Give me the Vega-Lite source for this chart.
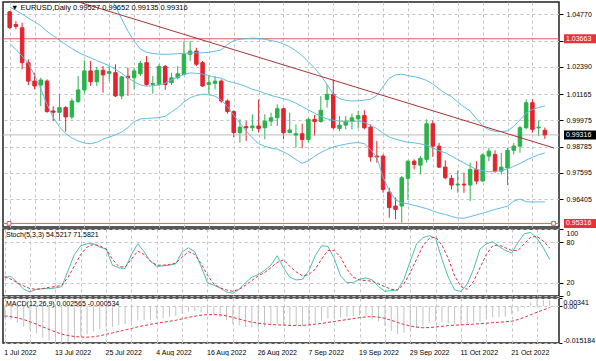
{
  "$schema": "https://vega.github.io/schema/vega-lite/v6.json",
  "padding": {"left": 1, "top": 1, "right": 0, "bottom": 0},
  "background": "white",
  "spacing": 2,
  "bounds": "flush",
  "config": {
    "view": {"stroke": "#222222", "strokeWidth": 1.5},
    "axis": {"labelFont": "Liberation Sans", "labelFontSize": 7, "labelColor": "#000000", "gridColor": "#c4c4c4", "gridDash": [3, 3], "gridWidth": 1, "tickColor": "#000000", "domain": false, "labelOverlap": false},
    "text": {"font": "Liberation Sans", "fontSize": 7.5, "color": "#000000"}
  },
  "datasets": {
    "bars": [
      {"i":0,"o":1.0488,"h":1.0492,"l":1.0410,"c":1.0417,"u":1.066,"m":1.0510,"lb":1.0345,"k":28,"d":29,"mc":-0.0048,"sg":-0.0040},
      {"i":1,"o":1.0431,"h":1.0446,"l":1.0410,"c":1.0422,"u":1.066,"m":1.0495,"lb":1.0318,"k":29,"d":25,"mc":-0.0055,"sg":-0.0043},
      {"i":2,"o":1.0416,"h":1.0439,"l":1.0228,"c":1.0258,"u":1.068,"m":1.0478,"lb":1.0288,"k":20,"d":20,"mc":-0.0068,"sg":-0.0048},
      {"i":3,"o":1.0258,"h":1.0273,"l":1.0157,"c":1.0175,"u":1.069,"m":1.0460,"lb":1.0255,"k":10,"d":15,"mc":-0.0085,"sg":-0.0055},
      {"i":4,"o":1.0175,"h":1.0213,"l":1.0138,"c":1.0153,"u":1.070,"m":1.0443,"lb":1.0200,"k":6,"d":11,"mc":-0.0100,"sg":-0.0064},
      {"i":5,"o":1.0157,"h":1.0190,"l":1.0062,"c":1.0180,"u":1.069,"m":1.0425,"lb":1.0140,"k":10,"d":10,"mc":-0.0112,"sg":-0.0074},
      {"i":6,"o":1.0175,"h":1.0183,"l":1.0032,"c":1.0037,"u":1.070,"m":1.0400,"lb":1.0070,"k":11,"d":11,"mc":-0.0130,"sg":-0.0085},
      {"i":7,"o":1.0040,"h":1.0062,"l":0.9995,"c":1.0034,"u":1.069,"m":1.0380,"lb":1.0010,"k":11,"d":13,"mc":-0.0142,"sg":-0.0096},
      {"i":8,"o":1.0034,"h":1.0115,"l":0.9995,"c":1.0055,"u":1.068,"m":1.0360,"lb":0.9968,"k":12,"d":14,"mc":-0.0148,"sg":-0.0106},
      {"i":9,"o":1.0055,"h":1.0062,"l":0.9946,"c":1.0013,"u":1.067,"m":1.0340,"lb":0.9938,"k":14,"d":16,"mc":-0.0152,"sg":-0.0115},
      {"i":10,"o":1.0013,"h":1.0097,"l":1.0002,"c":1.0085,"u":1.065,"m":1.0322,"lb":0.9918,"k":38,"d":28,"mc":-0.0148,"sg":-0.0121},
      {"i":11,"o":1.0082,"h":1.0198,"l":1.0077,"c":1.0135,"u":1.063,"m":1.0305,"lb":0.9904,"k":62,"d":45,"mc":-0.0138,"sg":-0.0125},
      {"i":12,"o":1.0135,"h":1.0269,"l":1.0118,"c":1.0221,"u":1.061,"m":1.0292,"lb":0.9895,"k":75,"d":62,"mc":-0.0124,"sg":-0.0127},
      {"i":13,"o":1.0221,"h":1.0266,"l":1.0153,"c":1.0172,"u":1.060,"m":1.0280,"lb":0.9892,"k":78,"d":73,"mc":-0.0115,"sg":-0.0128},
      {"i":14,"o":1.0172,"h":1.0239,"l":1.0153,"c":1.0224,"u":1.059,"m":1.0268,"lb":0.9898,"k":78,"d":77,"mc":-0.0104,"sg":-0.0126},
      {"i":15,"o":1.0224,"h":1.0243,"l":1.0123,"c":1.0203,"u":1.058,"m":1.0256,"lb":0.9912,"k":73,"d":75,"mc":-0.0095,"sg":-0.0122},
      {"i":16,"o":1.0210,"h":1.0243,"l":1.0175,"c":1.0218,"u":1.056,"m":1.0245,"lb":0.9922,"k":70,"d":70,"mc":-0.0087,"sg":-0.0116},
      {"i":17,"o":1.0213,"h":1.0251,"l":1.0103,"c":1.0108,"u":1.0514,"m":1.0228,"lb":0.9932,"k":46,"d":55,"mc":-0.0085,"sg":-0.0110},
      {"i":18,"o":1.0108,"h":1.0198,"l":1.0093,"c":1.0194,"u":1.0456,"m":1.0210,"lb":0.9945,"k":42,"d":44,"mc":-0.0078,"sg":-0.0104},
      {"i":19,"o":1.0197,"h":1.0236,"l":1.0108,"c":1.0190,"u":1.0401,"m":1.0190,"lb":0.9965,"k":41,"d":43,"mc":-0.0073,"sg":-0.0098},
      {"i":20,"o":1.0190,"h":1.0236,"l":1.0138,"c":1.0221,"u":1.0356,"m":1.0172,"lb":0.9992,"k":62,"d":55,"mc":-0.0066,"sg":-0.0092},
      {"i":21,"o":1.0208,"h":1.0266,"l":1.0198,"c":1.0255,"u":1.0320,"m":1.0158,"lb":1.0004,"k":78,"d":67,"mc":-0.0058,"sg":-0.0085},
      {"i":22,"o":1.0258,"h":1.0289,"l":1.0153,"c":1.0160,"u":1.0305,"m":1.0152,"lb":1.0006,"k":66,"d":62,"mc":-0.0057,"sg":-0.0080},
      {"i":23,"o":1.0160,"h":1.0198,"l":1.0118,"c":1.0164,"u":1.0300,"m":1.0154,"lb":1.0008,"k":52,"d":52,"mc":-0.0056,"sg":-0.0075},
      {"i":24,"o":1.0160,"h":1.0251,"l":1.0153,"c":1.0241,"u":1.0297,"m":1.0158,"lb":1.0010,"k":44,"d":46,"mc":-0.0050,"sg":-0.0070},
      {"i":25,"o":1.0241,"h":1.0248,"l":1.0135,"c":1.0160,"u":1.0296,"m":1.0165,"lb":1.0016,"k":45,"d":46,"mc":-0.0049,"sg":-0.0066},
      {"i":26,"o":1.0168,"h":1.0213,"l":1.0157,"c":1.0190,"u":1.0297,"m":1.0180,"lb":1.0035,"k":46,"d":47,"mc":-0.0045,"sg":-0.0062},
      {"i":27,"o":1.0190,"h":1.0243,"l":1.0183,"c":1.0208,"u":1.0299,"m":1.0192,"lb":1.0055,"k":48,"d":49,"mc":-0.0040,"sg":-0.0058},
      {"i":28,"o":1.0205,"h":1.0355,"l":1.0202,"c":1.0296,"u":1.0300,"m":1.0205,"lb":1.0080,"k":66,"d":58,"mc":-0.0030,"sg":-0.0052},
      {"i":29,"o":1.0296,"h":1.0356,"l":1.0266,"c":1.0311,"u":1.0302,"m":1.0212,"lb":1.0100,"k":72,"d":66,"mc":-0.0022,"sg":-0.0046},
      {"i":30,"o":1.0311,"h":1.0326,"l":1.0243,"c":1.0251,"u":1.0303,"m":1.0210,"lb":1.0110,"k":66,"d":62,"mc":-0.0020,"sg":-0.0041},
      {"i":31,"o":1.0258,"h":1.0266,"l":1.0148,"c":1.0153,"u":1.0303,"m":1.0207,"lb":1.0116,"k":44,"d":48,"mc":-0.0025,"sg":-0.0037},
      {"i":32,"o":1.0160,"h":1.0198,"l":1.0118,"c":1.0168,"u":1.0305,"m":1.0200,"lb":1.0113,"k":20,"d":31,"mc":-0.0030,"sg":-0.0035},
      {"i":33,"o":1.0165,"h":1.0198,"l":1.0138,"c":1.0175,"u":1.0310,"m":1.0192,"lb":1.0107,"k":16,"d":18,"mc":-0.0034,"sg":-0.0034},
      {"i":34,"o":1.0175,"h":1.0183,"l":1.0077,"c":1.0085,"u":1.0316,"m":1.0188,"lb":1.0090,"k":12,"d":12,"mc":-0.0045,"sg":-0.0036},
      {"i":35,"o":1.0085,"h":1.0092,"l":1.0028,"c":1.0037,"u":1.0341,"m":1.0175,"lb":1.0060,"k":6,"d":9,"mc":-0.0058,"sg":-0.0040},
      {"i":36,"o":1.0037,"h":1.0043,"l":0.9922,"c":0.9942,"u":1.0358,"m":1.0168,"lb":1.0020,"k":4,"d":7,"mc":-0.0073,"sg":-0.0046},
      {"i":37,"o":0.9942,"h":1.0002,"l":0.9897,"c":0.9967,"u":1.0364,"m":1.0160,"lb":0.9985,"k":10,"d":10,"mc":-0.0080,"sg":-0.0053},
      {"i":38,"o":0.9969,"h":0.9994,"l":0.9904,"c":0.9964,"u":1.0367,"m":1.0150,"lb":0.9950,"k":20,"d":16,"mc":-0.0085,"sg":-0.0060},
      {"i":39,"o":0.9964,"h":1.0025,"l":0.9949,"c":0.9972,"u":1.0369,"m":1.0138,"lb":0.9918,"k":28,"d":23,"mc":-0.0087,"sg":-0.0066},
      {"i":40,"o":0.9972,"h":1.0092,"l":0.9942,"c":0.9961,"u":1.0368,"m":1.0130,"lb":0.9892,"k":32,"d":30,"mc":-0.0088,"sg":-0.0070},
      {"i":41,"o":0.9964,"h":1.0025,"l":0.9912,"c":0.9994,"u":1.0364,"m":1.0120,"lb":0.9880,"k":38,"d":35,"mc":-0.0085,"sg":-0.0073},
      {"i":42,"o":0.9994,"h":1.0032,"l":0.9972,"c":1.0009,"u":1.0358,"m":1.0110,"lb":0.9872,"k":46,"d":42,"mc":-0.0080,"sg":-0.0075},
      {"i":43,"o":1.0009,"h":1.0070,"l":0.9972,"c":1.0050,"u":1.0353,"m":1.0103,"lb":0.9867,"k":60,"d":50,"mc":-0.0074,"sg":-0.0077},
      {"i":44,"o":1.0050,"h":1.0055,"l":0.9912,"c":0.9942,"u":1.0343,"m":1.0095,"lb":0.9855,"k":42,"d":54,"mc":-0.0077,"sg":-0.0078},
      {"i":45,"o":0.9942,"h":1.0032,"l":0.9939,"c":0.9954,"u":1.0330,"m":1.0088,"lb":0.9840,"k":28,"d":44,"mc":-0.0078,"sg":-0.0079},
      {"i":46,"o":0.9931,"h":0.9979,"l":0.9874,"c":0.9937,"u":1.0312,"m":1.0075,"lb":0.9820,"k":24,"d":36,"mc":-0.0080,"sg":-0.0079},
      {"i":47,"o":0.9937,"h":0.9982,"l":0.9871,"c":0.9911,"u":1.0290,"m":1.0060,"lb":0.9803,"k":25,"d":30,"mc":-0.0082,"sg":-0.0079},
      {"i":48,"o":0.9911,"h":1.0009,"l":0.9898,"c":1.0002,"u":1.0262,"m":1.0044,"lb":0.9815,"k":38,"d":32,"mc":-0.0075,"sg":-0.0077},
      {"i":49,"o":1.0002,"h":1.0022,"l":0.9927,"c":0.9992,"u":1.0235,"m":1.0030,"lb":0.9835,"k":60,"d":40,"mc":-0.0068,"sg":-0.0074},
      {"i":50,"o":0.9992,"h":1.0107,"l":0.9987,"c":1.0043,"u":1.0200,"m":1.0015,"lb":0.9852,"k":75,"d":55,"mc":-0.0060,"sg":-0.0071},
      {"i":51,"o":1.0092,"h":1.0160,"l":1.0055,"c":1.0115,"u":1.0160,"m":1.0004,"lb":0.9866,"k":74,"d":68,"mc":-0.0050,"sg":-0.0067},
      {"i":52,"o":1.0115,"h":1.0183,"l":0.9957,"c":0.9964,"u":1.0115,"m":0.9998,"lb":0.9877,"k":56,"d":68,"mc":-0.0048,"sg":-0.0063},
      {"i":53,"o":0.9961,"h":1.0017,"l":0.9949,"c":0.9976,"u":1.0096,"m":0.9994,"lb":0.9884,"k":30,"d":58,"mc":-0.0046,"sg":-0.0059},
      {"i":54,"o":0.9976,"h":1.0017,"l":0.9957,"c":0.9994,"u":1.0088,"m":0.9991,"lb":0.9890,"k":20,"d":40,"mc":-0.0043,"sg":-0.0055},
      {"i":55,"o":0.9994,"h":1.0028,"l":0.9957,"c":1.0009,"u":1.0085,"m":0.9992,"lb":0.9895,"k":20,"d":28,"mc":-0.0040,"sg":-0.0051},
      {"i":56,"o":1.0004,"h":1.0040,"l":0.9961,"c":1.0019,"u":1.0086,"m":0.9994,"lb":0.9897,"k":25,"d":24,"mc":-0.0038,"sg":-0.0047},
      {"i":57,"o":1.0019,"h":1.0043,"l":0.9957,"c":0.9964,"u":1.0089,"m":0.9988,"lb":0.9892,"k":27,"d":23,"mc":-0.0040,"sg":-0.0044},
      {"i":58,"o":0.9967,"h":0.9979,"l":0.9811,"c":0.9832,"u":1.0093,"m":0.9975,"lb":0.9865,"k":24,"d":22,"mc":-0.0052,"sg":-0.0043},
      {"i":59,"o":0.9836,"h":0.9904,"l":0.9806,"c":0.9832,"u":1.0110,"m":0.9960,"lb":0.9830,"k":14,"d":18,"mc":-0.0062,"sg":-0.0045},
      {"i":60,"o":0.9836,"h":0.9844,"l":0.9670,"c":0.9685,"u":1.0150,"m":0.9940,"lb":0.9740,"k":7,"d":14,"mc":-0.0082,"sg":-0.0050},
      {"i":61,"o":0.9673,"h":0.9693,"l":0.9557,"c":0.9603,"u":1.0188,"m":0.9922,"lb":0.9680,"k":8,"d":10,"mc":-0.0102,"sg":-0.0058},
      {"i":62,"o":0.9610,"h":0.9648,"l":0.9550,"c":0.9595,"u":1.0203,"m":0.9912,"lb":0.9638,"k":9,"d":9,"mc":-0.0115,"sg":-0.0067},
      {"i":63,"o":0.9610,"h":0.9746,"l":0.9535,"c":0.9738,"u":1.0206,"m":0.9905,"lb":0.9625,"k":25,"d":18,"mc":-0.0110,"sg":-0.0075},
      {"i":64,"o":0.9735,"h":0.9816,"l":0.9640,"c":0.9813,"u":1.0200,"m":0.9898,"lb":0.9620,"k":52,"d":35,"mc":-0.0098,"sg":-0.0082},
      {"i":65,"o":0.9813,"h":0.9821,"l":0.9776,"c":0.9798,"u":1.0195,"m":0.9896,"lb":0.9613,"k":78,"d":55,"mc":-0.0090,"sg":-0.0086},
      {"i":66,"o":0.9795,"h":0.9836,"l":0.9753,"c":0.9826,"u":1.0188,"m":0.9891,"lb":0.9606,"k":87,"d":75,"mc":-0.0082,"sg":-0.0089},
      {"i":67,"o":0.9821,"h":1.0002,"l":0.9806,"c":0.9982,"u":1.0178,"m":0.9885,"lb":0.9598,"k":90,"d":86,"mc":-0.0068,"sg":-0.0088},
      {"i":68,"o":0.9982,"h":0.9997,"l":0.9832,"c":0.9881,"u":1.0162,"m":0.9873,"lb":0.9588,"k":86,"d":88,"mc":-0.0063,"sg":-0.0086},
      {"i":69,"o":0.9881,"h":0.9896,"l":0.9783,"c":0.9786,"u":1.0140,"m":0.9860,"lb":0.9578,"k":55,"d":76,"mc":-0.0066,"sg":-0.0083},
      {"i":70,"o":0.9786,"h":0.9817,"l":0.9731,"c":0.9738,"u":1.0120,"m":0.9851,"lb":0.9572,"k":28,"d":56,"mc":-0.0070,"sg":-0.0080},
      {"i":71,"o":0.9735,"h":0.9750,"l":0.9685,"c":0.9705,"u":1.0105,"m":0.9836,"lb":0.9563,"k":9,"d":30,"mc":-0.0074,"sg":-0.0078},
      {"i":72,"o":0.9705,"h":0.9771,"l":0.9670,"c":0.9709,"u":1.0080,"m":0.9820,"lb":0.9556,"k":7,"d":14,"mc":-0.0075,"sg":-0.0077},
      {"i":73,"o":0.9709,"h":0.9761,"l":0.9670,"c":0.9705,"u":1.0058,"m":0.9805,"lb":0.9555,"k":18,"d":10,"mc":-0.0074,"sg":-0.0076},
      {"i":74,"o":0.9705,"h":0.9806,"l":0.9633,"c":0.9775,"u":1.0040,"m":0.9790,"lb":0.9562,"k":40,"d":22,"mc":-0.0066,"sg":-0.0074},
      {"i":75,"o":0.9775,"h":0.9813,"l":0.9708,"c":0.9723,"u":1.0005,"m":0.9776,"lb":0.9570,"k":70,"d":42,"mc":-0.0064,"sg":-0.0072},
      {"i":76,"o":0.9723,"h":0.9847,"l":0.9720,"c":0.9841,"u":0.9972,"m":0.9770,"lb":0.9578,"k":78,"d":62,"mc":-0.0054,"sg":-0.0070},
      {"i":77,"o":0.9836,"h":0.9874,"l":0.9813,"c":0.9858,"u":0.9955,"m":0.9765,"lb":0.9586,"k":81,"d":75,"mc":-0.0046,"sg":-0.0068},
      {"i":78,"o":0.9843,"h":0.9862,"l":0.9760,"c":0.9768,"u":0.9948,"m":0.9766,"lb":0.9595,"k":74,"d":76,"mc":-0.0045,"sg":-0.0066},
      {"i":79,"o":0.9768,"h":0.9851,"l":0.9753,"c":0.9786,"u":0.9947,"m":0.9771,"lb":0.9602,"k":68,"d":72,"mc":-0.0043,"sg":-0.0064},
      {"i":80,"o":0.9783,"h":0.9874,"l":0.9705,"c":0.9862,"u":0.9950,"m":0.9778,"lb":0.9610,"k":64,"d":68,"mc":-0.0033,"sg":-0.0062},
      {"i":81,"o":0.9862,"h":0.9896,"l":0.9843,"c":0.9881,"u":0.9970,"m":0.9790,"lb":0.9632,"k":80,"d":68,"mc":-0.0022,"sg":-0.0055},
      {"i":82,"o":0.9881,"h":0.9972,"l":0.9851,"c":0.9964,"u":1.0000,"m":0.9802,"lb":0.9642,"k":93,"d":78,"mc":-0.0008,"sg":-0.0046},
      {"i":83,"o":0.9964,"h":1.0092,"l":0.9957,"c":1.0077,"u":1.0030,"m":0.9818,"lb":0.9630,"k":95,"d":88,"mc":0.0016,"sg":-0.0035},
      {"i":84,"o":1.0077,"h":1.0092,"l":0.9942,"c":0.9957,"u":1.0046,"m":0.9830,"lb":0.9628,"k":86,"d":89,"mc":0.0024,"sg":-0.0025},
      {"i":85,"o":0.9964,"h":0.9997,"l":0.9926,"c":0.9967,"u":1.0056,"m":0.9842,"lb":0.9629,"k":72,"d":82,"mc":0.0027,"sg":-0.0015},
      {"i":86,"o":0.99527,"h":0.99652,"l":0.99135,"c":0.99316,"u":1.0062,"m":0.9850,"lb":0.9629,"k":54.5217,"d":71.5821,"mc":0.002565,"sg":-0.000534}
    ],
    "levels": [
      {"p": 1.03663, "kind": "line"},
      {"p": 0.95316, "kind": "line"},
      {"p": 0.99316, "kind": "bid"}
    ],
    "trend": [
      {"i": 10, "p": 1.0542},
      {"i": 87.47, "p": 0.98725}
    ],
    "anchors": [
      {"i": -0.1, "p": 0.95316},
      {"i": 87.4, "p": 0.95316}
    ]
  },
  "vconcat": [
    {
      "width": 556,
      "height": 225,
      "layer": [
        {
          "data": {"name": "bars"},
          "mark": {"type": "rule", "clip": true},
          "encoding": {
            "x": {"field": "i", "type": "quantitative", "scale": {"domain": [-0.27, 87.47], "nice": false, "zero": false},
                  "axis": {"title": null, "values": [0,4,8,12,16,20,24,28,32,36,40,44,48,52,56,60,64,68,72,76,80,84], "tickCount": 40, "labels": false, "ticks": false, "grid": true, "minExtent": 0, "maxExtent": 0, "offset": 0}},
            "y": {"field": "l", "type": "quantitative", "scale": {"domain": [0.95153, 1.05326], "nice": false, "zero": false},
                  "axis": {"title": null, "orient": "right", "values": [1.0477, 1.0358, 1.0239, 1.01165, 0.99975, 0.98785, 0.97595, 0.96405], "tickCount": 20, "tickSize": 4, "labelPadding": 3, "grid": true, "labelOverlap": false,
                           "labelExpr": "datum.value == 1.0358 ? '' : format(datum.value, '.5f')"}},
            "y2": {"field": "h"},
            "color": {"condition": {"test": "datum.c >= datum.o", "value": "#2bb24c"}, "value": "#e3242e"}
          }
        },
        {
          "data": {"name": "levels"},
          "mark": {"type": "rule", "strokeWidth": 1},
          "encoding": {
            "y": {"field": "p", "type": "quantitative", "axis": {"title": null}},
            "color": {"condition": {"test": "datum.kind == 'bid'", "value": "#bdbdbd"}, "value": "#e25b5b"}
          }
        },
        {
          "data": {"name": "bars"},
          "mark": {"type": "bar", "width": 3.5, "strokeWidth": 1, "clip": true},
          "encoding": {
            "x": {"field": "i", "type": "quantitative", "axis": {"title": null}},
            "y": {"field": "o", "type": "quantitative", "axis": {"title": null}},
            "y2": {"field": "c"},
            "color": {"condition": {"test": "datum.c >= datum.o", "value": "#2bb24c"}, "value": "#e3242e"},
            "stroke": {"condition": {"test": "datum.c >= datum.o", "value": "#2bb24c"}, "value": "#e3242e"}
          }
        },
        {
          "data": {"name": "bars"},
          "mark": {"type": "line", "color": "#62bde2", "strokeWidth": 1, "clip": true},
          "encoding": {
            "x": {"field": "i", "type": "quantitative", "axis": {"title": null}},
            "y": {"field": "u", "type": "quantitative", "axis": {"title": null}}
          }
        },
        {
          "data": {"name": "bars"},
          "mark": {"type": "line", "color": "#62bde2", "strokeWidth": 1, "clip": true},
          "encoding": {
            "x": {"field": "i", "type": "quantitative", "axis": {"title": null}},
            "y": {"field": "m", "type": "quantitative", "axis": {"title": null}}
          }
        },
        {
          "data": {"name": "bars"},
          "mark": {"type": "line", "color": "#62bde2", "strokeWidth": 1, "clip": true},
          "encoding": {
            "x": {"field": "i", "type": "quantitative", "axis": {"title": null}},
            "y": {"field": "lb", "type": "quantitative", "axis": {"title": null}}
          }
        },
        {
          "data": {"name": "trend"},
          "mark": {"type": "line", "color": "#a83232", "strokeWidth": 1, "clip": true},
          "encoding": {
            "x": {"field": "i", "type": "quantitative", "axis": {"title": null}},
            "y": {"field": "p", "type": "quantitative", "axis": {"title": null}}
          }
        },
        {
          "data": {"name": "anchors"},
          "mark": {"type": "point", "shape": "square", "size": 14, "filled": true, "fill": "white", "stroke": "#e25b5b", "strokeWidth": 1, "opacity": 1},
          "encoding": {
            "x": {"field": "i", "type": "quantitative", "axis": {"title": null}},
            "y": {"field": "p", "type": "quantitative", "axis": {"title": null}}
          }
        },
        {
          "data": {"name": "levels"},
          "mark": {"type": "rule", "strokeWidth": 9, "clip": false},
          "encoding": {
            "x": {"value": {"expr": "width + 5"}},
            "x2": {"value": {"expr": "width + 39"}},
            "y": {"field": "p", "type": "quantitative", "axis": {"title": null}},
            "color": {"condition": {"test": "datum.kind == 'bid'", "value": "#000000"}, "value": "#e8323a"}
          }
        },
        {
          "data": {"name": "levels"},
          "mark": {"type": "text", "align": "left", "baseline": "middle", "fontSize": 7, "color": "#ffffff", "clip": false},
          "encoding": {
            "x": {"value": {"expr": "width + 7"}},
            "y": {"field": "p", "type": "quantitative", "axis": {"title": null}},
            "text": {"field": "p", "type": "quantitative", "format": ".5f"}
          }
        },
        {
          "data": {"values": [{"t": "▼ EURUSD,Daily  0.99527 0.99652 0.99135 0.99316"}]},
          "mark": {"type": "text", "align": "left", "baseline": "top", "dx": 3, "dy": 2},
          "encoding": {
            "x": {"datum": -0.27, "type": "quantitative", "axis": {"title": null}},
            "y": {"datum": 1.05326, "type": "quantitative", "axis": {"title": null}},
            "text": {"field": "t"}
          }
        }
      ]
    },
    {
      "width": 556,
      "height": 67,
      "layer": [
        {
          "data": {"name": "bars"},
          "mark": {"type": "line", "color": "#4cbfae", "strokeWidth": 1, "clip": true},
          "encoding": {
            "x": {"field": "i", "type": "quantitative", "scale": {"domain": [-0.27, 87.47], "nice": false, "zero": false},
                  "axis": {"title": null, "values": [0,4,8,12,16,20,24,28,32,36,40,44,48,52,56,60,64,68,72,76,80,84], "tickCount": 40, "labels": false, "ticks": false, "grid": true, "minExtent": 0, "maxExtent": 0, "offset": 0}},
            "y": {"field": "k", "type": "quantitative", "scale": {"domain": [0, 100], "nice": false, "zero": false},
                  "axis": {"title": null, "orient": "right", "values": [0, 20, 80, 100], "tickCount": 20, "tickSize": 4, "labelPadding": 3, "grid": true, "labelFlush": true, "labelOverlap": false}}
          }
        },
        {
          "data": {"name": "bars"},
          "mark": {"type": "line", "color": "#e0303c", "strokeWidth": 1, "strokeDash": [3, 2], "clip": true},
          "encoding": {
            "x": {"field": "i", "type": "quantitative", "axis": {"title": null}},
            "y": {"field": "d", "type": "quantitative", "axis": {"title": null}}
          }
        },
        {
          "data": {"values": [{"t": "Stoch(5,3,3) 54.5217 71.5821"}]},
          "mark": {"type": "text", "align": "left", "baseline": "top", "dx": 3, "dy": 2, "fontSize": 7},
          "encoding": {
            "x": {"datum": -0.27, "type": "quantitative", "axis": {"title": null}},
            "y": {"datum": 100, "type": "quantitative", "axis": {"title": null}},
            "text": {"field": "t"}
          }
        }
      ]
    },
    {
      "width": 556,
      "height": 45,
      "layer": [
        {
          "data": {"name": "bars"},
          "mark": {"type": "rule", "color": "#c2c2c2", "strokeWidth": 1, "clip": true},
          "encoding": {
            "x": {"field": "i", "type": "quantitative", "scale": {"domain": [-0.27, 87.47], "nice": false, "zero": false},
                  "axis": {"title": null, "values": [0,4,8,12,16,20,24,28,32,36,40,44,48,52,56,60,64,68,72,76,80,84], "tickCount": 40, "ticks": false, "grid": true, "labelAlign": "left", "labelBaseline": "top", "labelPadding": 5, "labelOffset": -1, "labelBound": false, "labelFlush": false, "labelOverlap": false,
                           "labelExpr": "datum.value % 8 == 0 ? ['1 Jul 2022','13 Jul 2022','25 Jul 2022','4 Aug 2022','16 Aug 2022','26 Aug 2022','7 Sep 2022','19 Sep 2022','29 Sep 2022','11 Oct 2022','21 Oct 2022'][datum.value / 8] : ''"}},
            "y": {"field": "mc", "type": "quantitative", "scale": {"domain": [-0.015184, 0.00341], "nice": false, "zero": false},
                  "axis": {"title": null, "orient": "right", "values": [0.00341, 0, -0.015184], "tickCount": 20, "tickSize": 3, "labelPadding": 1, "grid": true, "labelFlush": true, "labelOverlap": false,
                           "labelExpr": "datum.value == 0 ? '0.00' : (datum.value > 0 ? '0.00341' : '-0.015184')"}},
            "y2": {"datum": 0}
          }
        },
        {
          "data": {"name": "bars"},
          "mark": {"type": "line", "color": "#e0303c", "strokeWidth": 1, "strokeDash": [3, 2], "clip": true},
          "encoding": {
            "x": {"field": "i", "type": "quantitative", "axis": {"title": null}},
            "y": {"field": "sg", "type": "quantitative", "axis": {"title": null}}
          }
        },
        {
          "data": {"values": [{"t": "MACD(12,26,9) 0.002565 -0.000534"}]},
          "mark": {"type": "text", "align": "left", "baseline": "top", "dx": 3, "dy": 2, "fontSize": 7},
          "encoding": {
            "x": {"datum": -0.27, "type": "quantitative", "axis": {"title": null}},
            "y": {"datum": 0.00341, "type": "quantitative", "axis": {"title": null}},
            "text": {"field": "t"}
          }
        }
      ]
    }
  ]
}
